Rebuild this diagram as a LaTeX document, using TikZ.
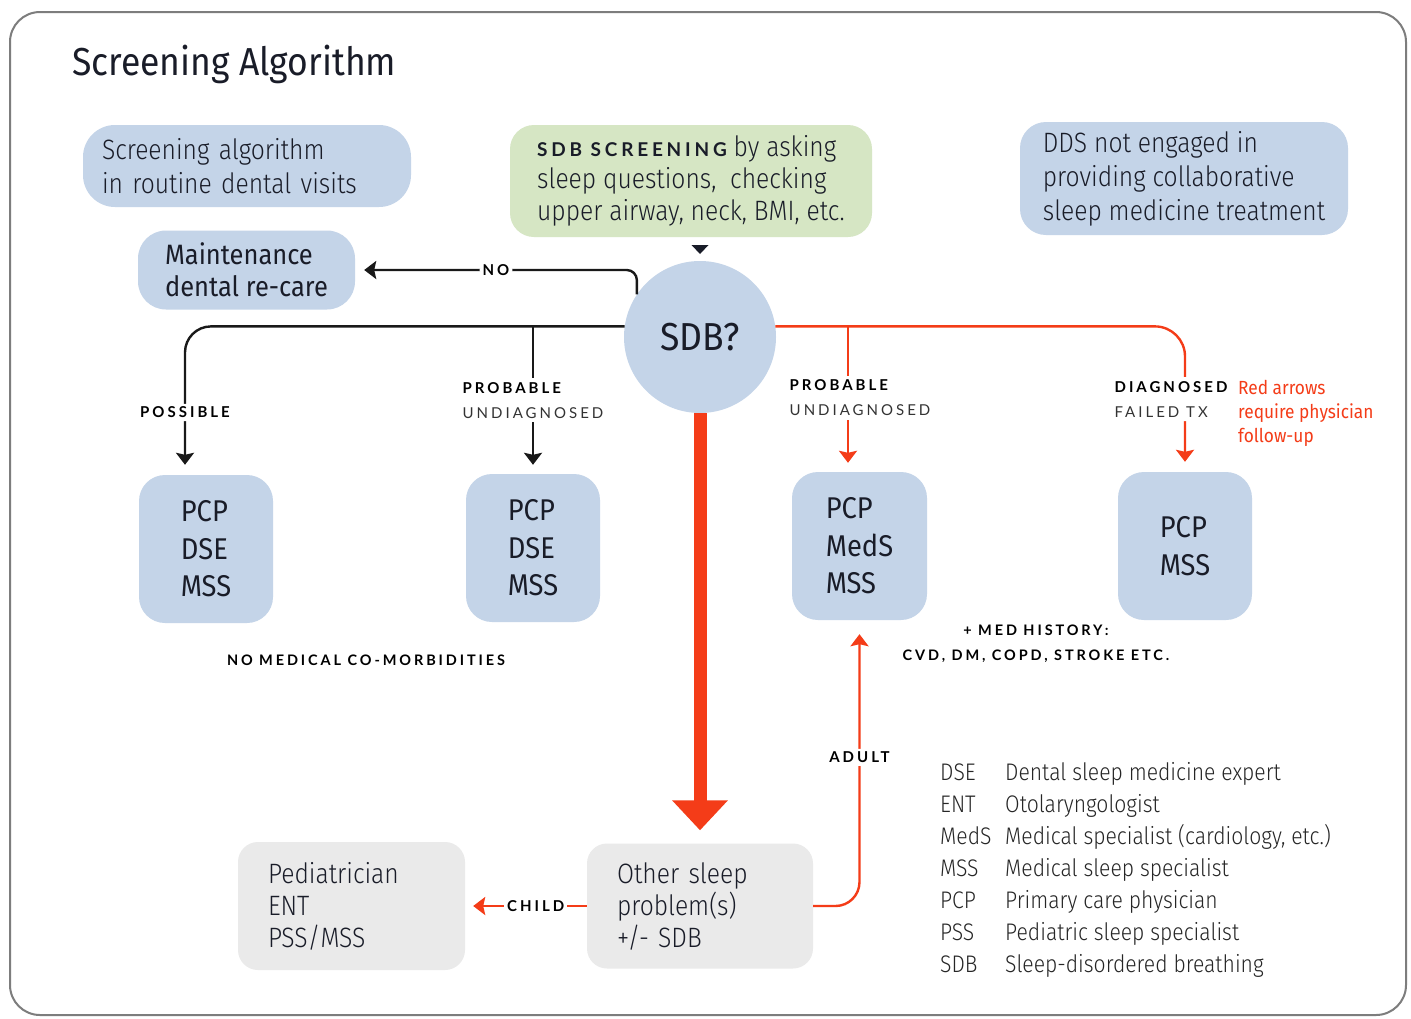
\documentclass[tikz,border=0pt]{standalone}
\usepackage{fontspec}
\setmainfont{Fira Sans}[FakeStretch=0.91]
\newfontfamily\lightf{Fira Sans Light}[FakeStretch=0.88]
\newfontfamily\labf{Lato}[LetterSpace=20]
\usetikzlibrary{arrows.meta}
\definecolor{boxblue}{RGB}{196,212,232}
\definecolor{boxgreen}{RGB}{214,230,196}
\definecolor{boxgray}{RGB}{234,234,234}
\definecolor{redo}{RGB}{244,60,24}
\definecolor{txt}{RGB}{25,28,40}
\definecolor{framec}{RGB}{125,125,125}
\newcommand\lbb[1]{{\labf\bfseries #1}}
\newcommand\lbr[1]{{\labf\color{black!80} #1}}
\begin{document}
\begin{tikzpicture}[x=1pt,y=-1pt,
  bbox/.style={fill=boxblue, rounded corners=26pt, text=txt, inner sep=0pt},
  gbox/.style={fill=boxgreen, rounded corners=24pt, text=txt, inner sep=0pt},
  ybox/.style={fill=boxgray, rounded corners=20pt, text=txt, inner sep=0pt},
  pbox/.style={bbox, minimum width=134pt, minimum height=148pt, align=left,
     font=\fontsize{30}{37.5}\selectfont},
  lab/.style={font=\fontsize{15}{25}\selectfont\labf\bfseries, text=black, inner sep=3pt},
  lab2/.style={font=\fontsize{15}{25}\selectfont\labf, align=left, fill=white, inner sep=4pt},
  blk/.style={draw=black!90, line width=2.4pt},
  redl/.style={draw=redo, line width=2.4pt},
  arr/.style={-{Stealth[length=12pt,width=18pt,inset=2pt]}},
]
\useasboundingbox (0,0) rectangle (1411,1018);
\fill[white] (0,0) rectangle (1411,1018);
\draw[framec, line width=2pt, rounded corners=30pt] (10,12) rectangle (1406,1015);

% title
\node[anchor=base west, inner sep=0pt, text=txt, font=\fontsize{39}{44}\selectfont] (title) at (72,75) {Screening Algorithm};

% top boxes
\node[bbox, rounded corners=32pt, minimum width=328pt, minimum height=82pt, text width=290pt, inner xsep=19pt, align=left,
  font=\lightf\fontsize{28}{34}\selectfont] (intro) at (247,166) {Screening algorithm\\in routine dental visits};
\node[bbox, rounded corners=28pt, minimum width=217pt, minimum height=79pt, align=left,
  font=\fontsize{28}{32}\selectfont] (maint) at (246.5,270) {Maintenance\\dental re-care};
\node[gbox, minimum width=362pt, minimum height=112pt, align=left,
  font=\lightf\fontsize{28}{32}\selectfont] (screen) at (691,181)
  {{\fontsize{19}{32}\selectfont\lbb{SDB SCREENING}} by asking\\sleep questions, \ checking\\upper airway, neck, BMI, etc.};
\node[bbox, minimum width=328pt, minimum height=113pt, align=left,
  font=\lightf\fontsize{28}{34}\selectfont] (dds) at (1184,178.5)
  {DDS not engaged in\\providing collaborative\\sleep medicine treatment};

% central decision
\node[circle, fill=boxblue, minimum size=152pt, inner sep=0pt, text=txt,
  font=\fontsize{39}{44}\selectfont] (sdb) at (700,337) {SDB?};
\fill[txt] (691.5,245) -- (708.5,245) -- (700,254) -- cycle;

% referral boxes
\node[pbox] (b1) at (206,549) {PCP\\DSE\\MSS};
\node[pbox] (b2) at (533,548) {PCP\\DSE\\MSS};
\node[pbox, minimum width=135pt] (b3) at (859.5,546) {PCP\\MedS\\MSS};
\node[pbox] (b4) at (1185,546) {PCP\\MSS};

% bottom boxes
\node[ybox, minimum width=226pt, minimum height=125pt, text width=166pt, inner xsep=30pt, align=left,
  font=\lightf\fontsize{28}{32}\selectfont] (other) at (700,906) {Other sleep\\problem(s)\\+/- SDB};
\node[ybox, minimum width=227pt, minimum height=128pt, text width=167pt, inner xsep=30pt, align=left,
  font=\lightf\fontsize{28}{32}\selectfont] (ped) at (351.5,906) {Pediatrician\\ENT\\PSS/MSS};

% connectors
\draw[blk, arr, rounded corners=10pt, shorten >=9pt] (sdb.146) |- node[lab, pos=0.75, fill=white]{NO} (maint.east);
\draw[blk, arr, rounded corners=26pt, shorten >=10pt] (sdb.172) -| node[lab, pos=0.79, fill=white]{POSSIBLE} ([xshift=-21pt]b1.north);
\coordinate (jl) at (b2.north |- sdb.172);
\draw[blk, arr, shorten >=9pt] (jl) -- node[lab2, pos=0.5]{\lbb{PROBABLE}\\\lbr{UNDIAGNOSED}} (b2.north);

\draw[redl, arr, rounded corners=30pt, shorten >=10pt] (sdb.8) -| node[lab2, pos=0.75, xshift=-14pt]{\lbb{DIAGNOSED}\\\lbr{FAILED TX}} (b4.north);
\coordinate (jr) at ([xshift=-11.5pt]b3.north |- sdb.8);
\draw[redl, arr, shorten >=9pt] (jr) -- node[lab2, pos=0.49, xshift=12pt]{\lbb{PROBABLE}\\\lbr{UNDIAGNOSED}} ([xshift=-11.5pt]b3.north);

\draw[draw=redo, line width=13pt, -{Triangle[length=30pt,width=54pt]}, shorten >=13pt] (sdb.south) -- (other.north);
\draw[redl, arr, shorten >=8pt] (other.west) -- node[lab, pos=0.42, fill=white]{CHILD} (ped.east);
\draw[redl, arr, rounded corners=24pt, shorten >=14pt] (other.east) -| node[lab, pos=0.76, fill=white]{ADULT} (b3.south);

% annotations
\node[lab, font=\fontsize{14.5}{25}\selectfont\labf\bfseries] (nomed) at (366,660) {NO MEDICAL CO-MORBIDITIES};
\node[lab, align=center, font=\fontsize{14.5}{25}\selectfont\labf\bfseries] (medhist) at (1036,644) {+ MED HISTORY:\\CVD, DM, COPD, STROKE ETC.};
\node[anchor=north west, inner sep=0pt, text=redo, align=left, font=\fontsize{19}{24}\selectfont] (note) at (1238,380)
  {Red arrows\\require physician\\follow-up};

% legend
\node[anchor=north west, inner sep=0pt, align=left, text=black!85, font=\lightf\fontsize{24}{32}\selectfont] (legend) at (940,762)
  {\makebox[65pt][l]{DSE}Dental sleep medicine expert\\
   \makebox[65pt][l]{ENT}Otolaryngologist\\
   \makebox[65pt][l]{MedS}Medical specialist (cardiology, etc.)\\
   \makebox[65pt][l]{MSS}Medical sleep specialist\\
   \makebox[65pt][l]{PCP}Primary care physician\\
   \makebox[65pt][l]{PSS}Pediatric sleep specialist\\
   \makebox[65pt][l]{SDB}Sleep-disordered breathing};
\end{tikzpicture}
\end{document}
